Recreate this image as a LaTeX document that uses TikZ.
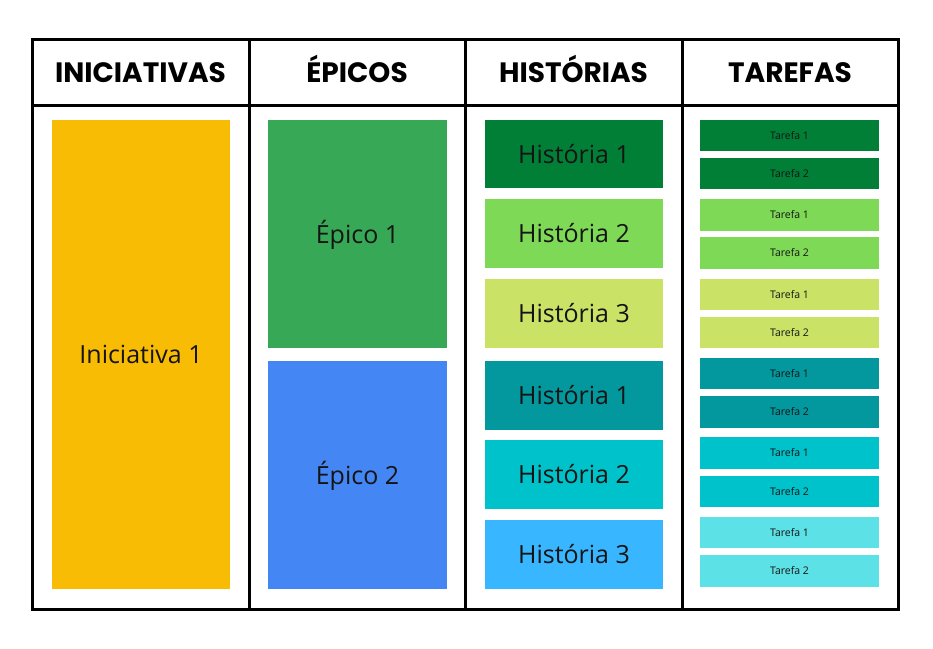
\documentclass[tikz,border=0pt]{standalone}
\usepackage{fontspec}
\setmainfont{Open Sans}
\newfontfamily\headfont{Poppins}[BoldFont=* Bold]
\definecolor{cIni}{HTML}{F9BC05}
\definecolor{cEp1}{HTML}{37A856}
\definecolor{cEp2}{HTML}{4486F4}
\definecolor{cH1}{HTML}{017F37}
\definecolor{cH2}{HTML}{7ED957}
\definecolor{cH3}{HTML}{CAE266}
\definecolor{cH4}{HTML}{03989E}
\definecolor{cH5}{HTML}{00C2CB}
\definecolor{cH6}{HTML}{38B6FF}
\definecolor{cT6}{HTML}{5CE1E6}
\definecolor{txt}{HTML}{141414}
\tikzset{
  grid/.style={line width=3pt, black},
  head/.style={anchor=base, inner sep=0pt, font=\headfont\bfseries\fontsize{28}{32}\selectfont, text=black},
  cardbox/.style={inner sep=0pt, text=txt, text height=18pt, text depth=0pt, font=\fontsize{25}{30}\selectfont},
  taskbox/.style={inner sep=0pt, text=txt, text height=7.6pt, text depth=0pt, font=\fontsize{10.5}{12}\selectfont},
}
\newcommand{\card}[8]{% name, x1,y1,x2,y2, fill, style, text
  \node[#7, fill=#6, minimum width={(#4-#2)*1pt}, minimum height={(#5-#3)*1pt}]
    (#1) at ({(#2+#4)/2},{(#3+#5)/2}) {#8};}
\begin{document}
\begin{tikzpicture}[x=1pt,y=-1pt]
\useasboundingbox[fill=white] (0,0) rectangle (933,648);
% table
\draw[grid] (32,39) rectangle (898,609);
\draw[grid] (32,105) -- (898,105);
\draw[grid] (249,39) -- (249,609);
\draw[grid] (465,39) -- (465,609);
\draw[grid] (682,39) -- (682,609);
% headers
\node[head] (hIni) at (140.5,82) {INICIATIVAS};
\node[head] (hEp) at (357,82) {ÉPICOS};
\node[head] (hHis) at (573.5,82) {HISTÓRIAS};
\node[head] (hTar) at (790,82) {TAREFAS};
% initiative
\card{ini}{52}{120}{230}{589}{cIni}{cardbox}{Iniciativa 1}
% epics
\card{ep1}{268}{120}{447}{348}{cEp1}{cardbox}{Épico 1}
\card{ep2}{268}{361}{447}{589}{cEp2}{cardbox}{Épico 2}
% stories
\card{h1}{485}{120}{663}{188}{cH1}{cardbox}{História 1}
\card{h2}{485}{199}{663}{268}{cH2}{cardbox}{História 2}
\card{h3}{485}{279}{663}{348}{cH3}{cardbox}{História 3}
\card{h4}{485}{361}{663}{430}{cH4}{cardbox}{História 1}
\card{h5}{485}{440}{663}{509}{cH5}{cardbox}{História 2}
\card{h6}{485}{520}{663}{589}{cH6}{cardbox}{História 3}
% tasks
\card{t1a}{700}{120}{879}{151}{cH1}{taskbox}{Tarefa 1}
\card{t1b}{700}{158}{879}{189}{cH1}{taskbox}{Tarefa 2}
\card{t2a}{700}{199}{879}{231}{cH2}{taskbox}{Tarefa 1}
\card{t2b}{700}{237}{879}{269}{cH2}{taskbox}{Tarefa 2}
\card{t3a}{700}{279}{879}{310}{cH3}{taskbox}{Tarefa 1}
\card{t3b}{700}{317}{879}{348}{cH3}{taskbox}{Tarefa 2}
\card{t4a}{700}{358}{879}{389}{cH4}{taskbox}{Tarefa 1}
\card{t4b}{700}{396}{879}{428}{cH4}{taskbox}{Tarefa 2}
\card{t5a}{700}{437}{879}{469}{cH5}{taskbox}{Tarefa 1}
\card{t5b}{700}{476}{879}{507}{cH5}{taskbox}{Tarefa 2}
\card{t6a}{700}{517}{879}{548}{cT6}{taskbox}{Tarefa 1}
\card{t6b}{700}{555}{879}{587}{cT6}{taskbox}{Tarefa 2}
\end{tikzpicture}
\end{document}
